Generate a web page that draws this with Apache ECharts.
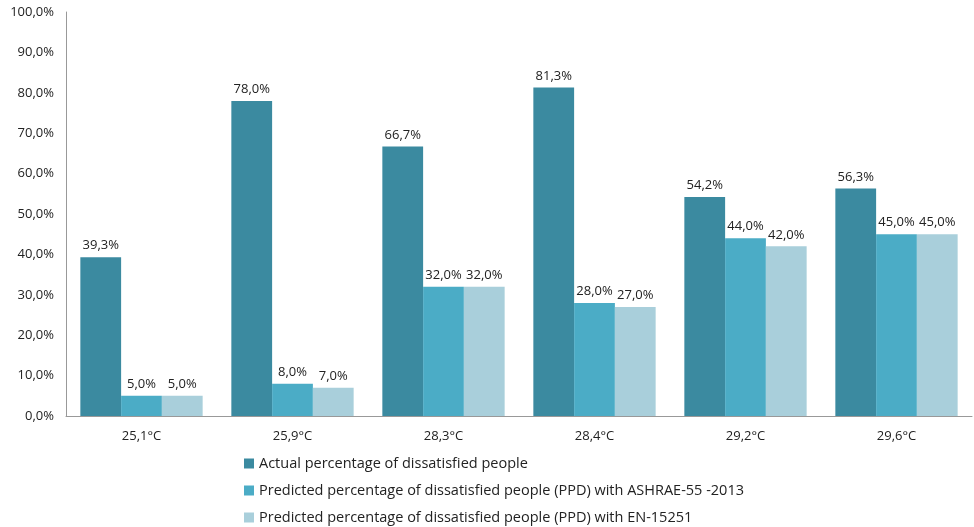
<!DOCTYPE html>
<html><head><meta charset="utf-8">
<script src="https://cdn.jsdelivr.net/npm/echarts@6/dist/echarts.min.js"></script>
<style>html,body{margin:0;padding:0;background:#fff}#c{width:974px;height:527px}</style>
</head><body><div id="c"></div>
<script>
const categories = ['25,1°C','25,9°C','28,3°C','28,4°C','29,2°C','29,6°C'];
const actual = [39.3, 78.0, 66.7, 81.3, 54.2, 56.3];
const ashrae = [5.0, 8.0, 32.0, 28.0, 44.0, 45.0];
const en15251 = [5.0, 7.0, 32.0, 27.0, 42.0, 45.0];
const seriesNames = [
  'Actual percentage of dissatisfied people',
  'Predicted percentage of dissatisfied people (PPD) with ASHRAE-55 -2013',
  'Predicted percentage of dissatisfied people (PPD) with EN-15251'
];
const colors = ['#3B8AA0', '#4BACC6', '#A9CFDB'];
const fmt = v => v.toFixed(1).replace('.', ',') + '%';
const font = 'Open Sans';
const chart = echarts.init(document.getElementById('c'));
const mk = (name, data, color) => ({
  name, type: 'bar', data, barGap: '0%', barCategoryGap: '19%',
  itemStyle: { color },
  label: { show: true, position: 'top', distance: 5, formatter: p => fmt(p.value), color: '#222', fontSize: 13, fontFamily: font }
});
chart.setOption({
  animation: false,
  textStyle: { fontFamily: font },
  grid: { left: 66, right: 2, top: 12, bottom: 111 },
  legend: {
    orient: 'vertical', left: 244, top: 455, height: 72, padding: 0, itemGap: 10, itemWidth: 10, itemHeight: 10,
    icon: 'rect', textStyle: { fontSize: 14.5, lineHeight: 17, color: '#222', fontFamily: font }
  },
  xAxis: {
    type: 'category', data: categories,
    axisLine: { lineStyle: { color: '#999' } }, axisTick: { show: false },
    axisLabel: { color: '#222', fontSize: 13, fontFamily: font, margin: 14 }
  },
  yAxis: {
    type: 'value', min: 0, max: 100, interval: 10,
    axisLine: { show: true, lineStyle: { color: '#999' } }, axisTick: { show: false },
    splitLine: { show: false },
    axisLabel: { color: '#222', fontSize: 13, fontFamily: font, margin: 12, formatter: v => v.toFixed(1).replace('.', ',') + '%' }
  },
  series: [mk(seriesNames[0], actual, colors[0]), mk(seriesNames[1], ashrae, colors[1]), mk(seriesNames[2], en15251, colors[2])]
});
</script></body></html>
